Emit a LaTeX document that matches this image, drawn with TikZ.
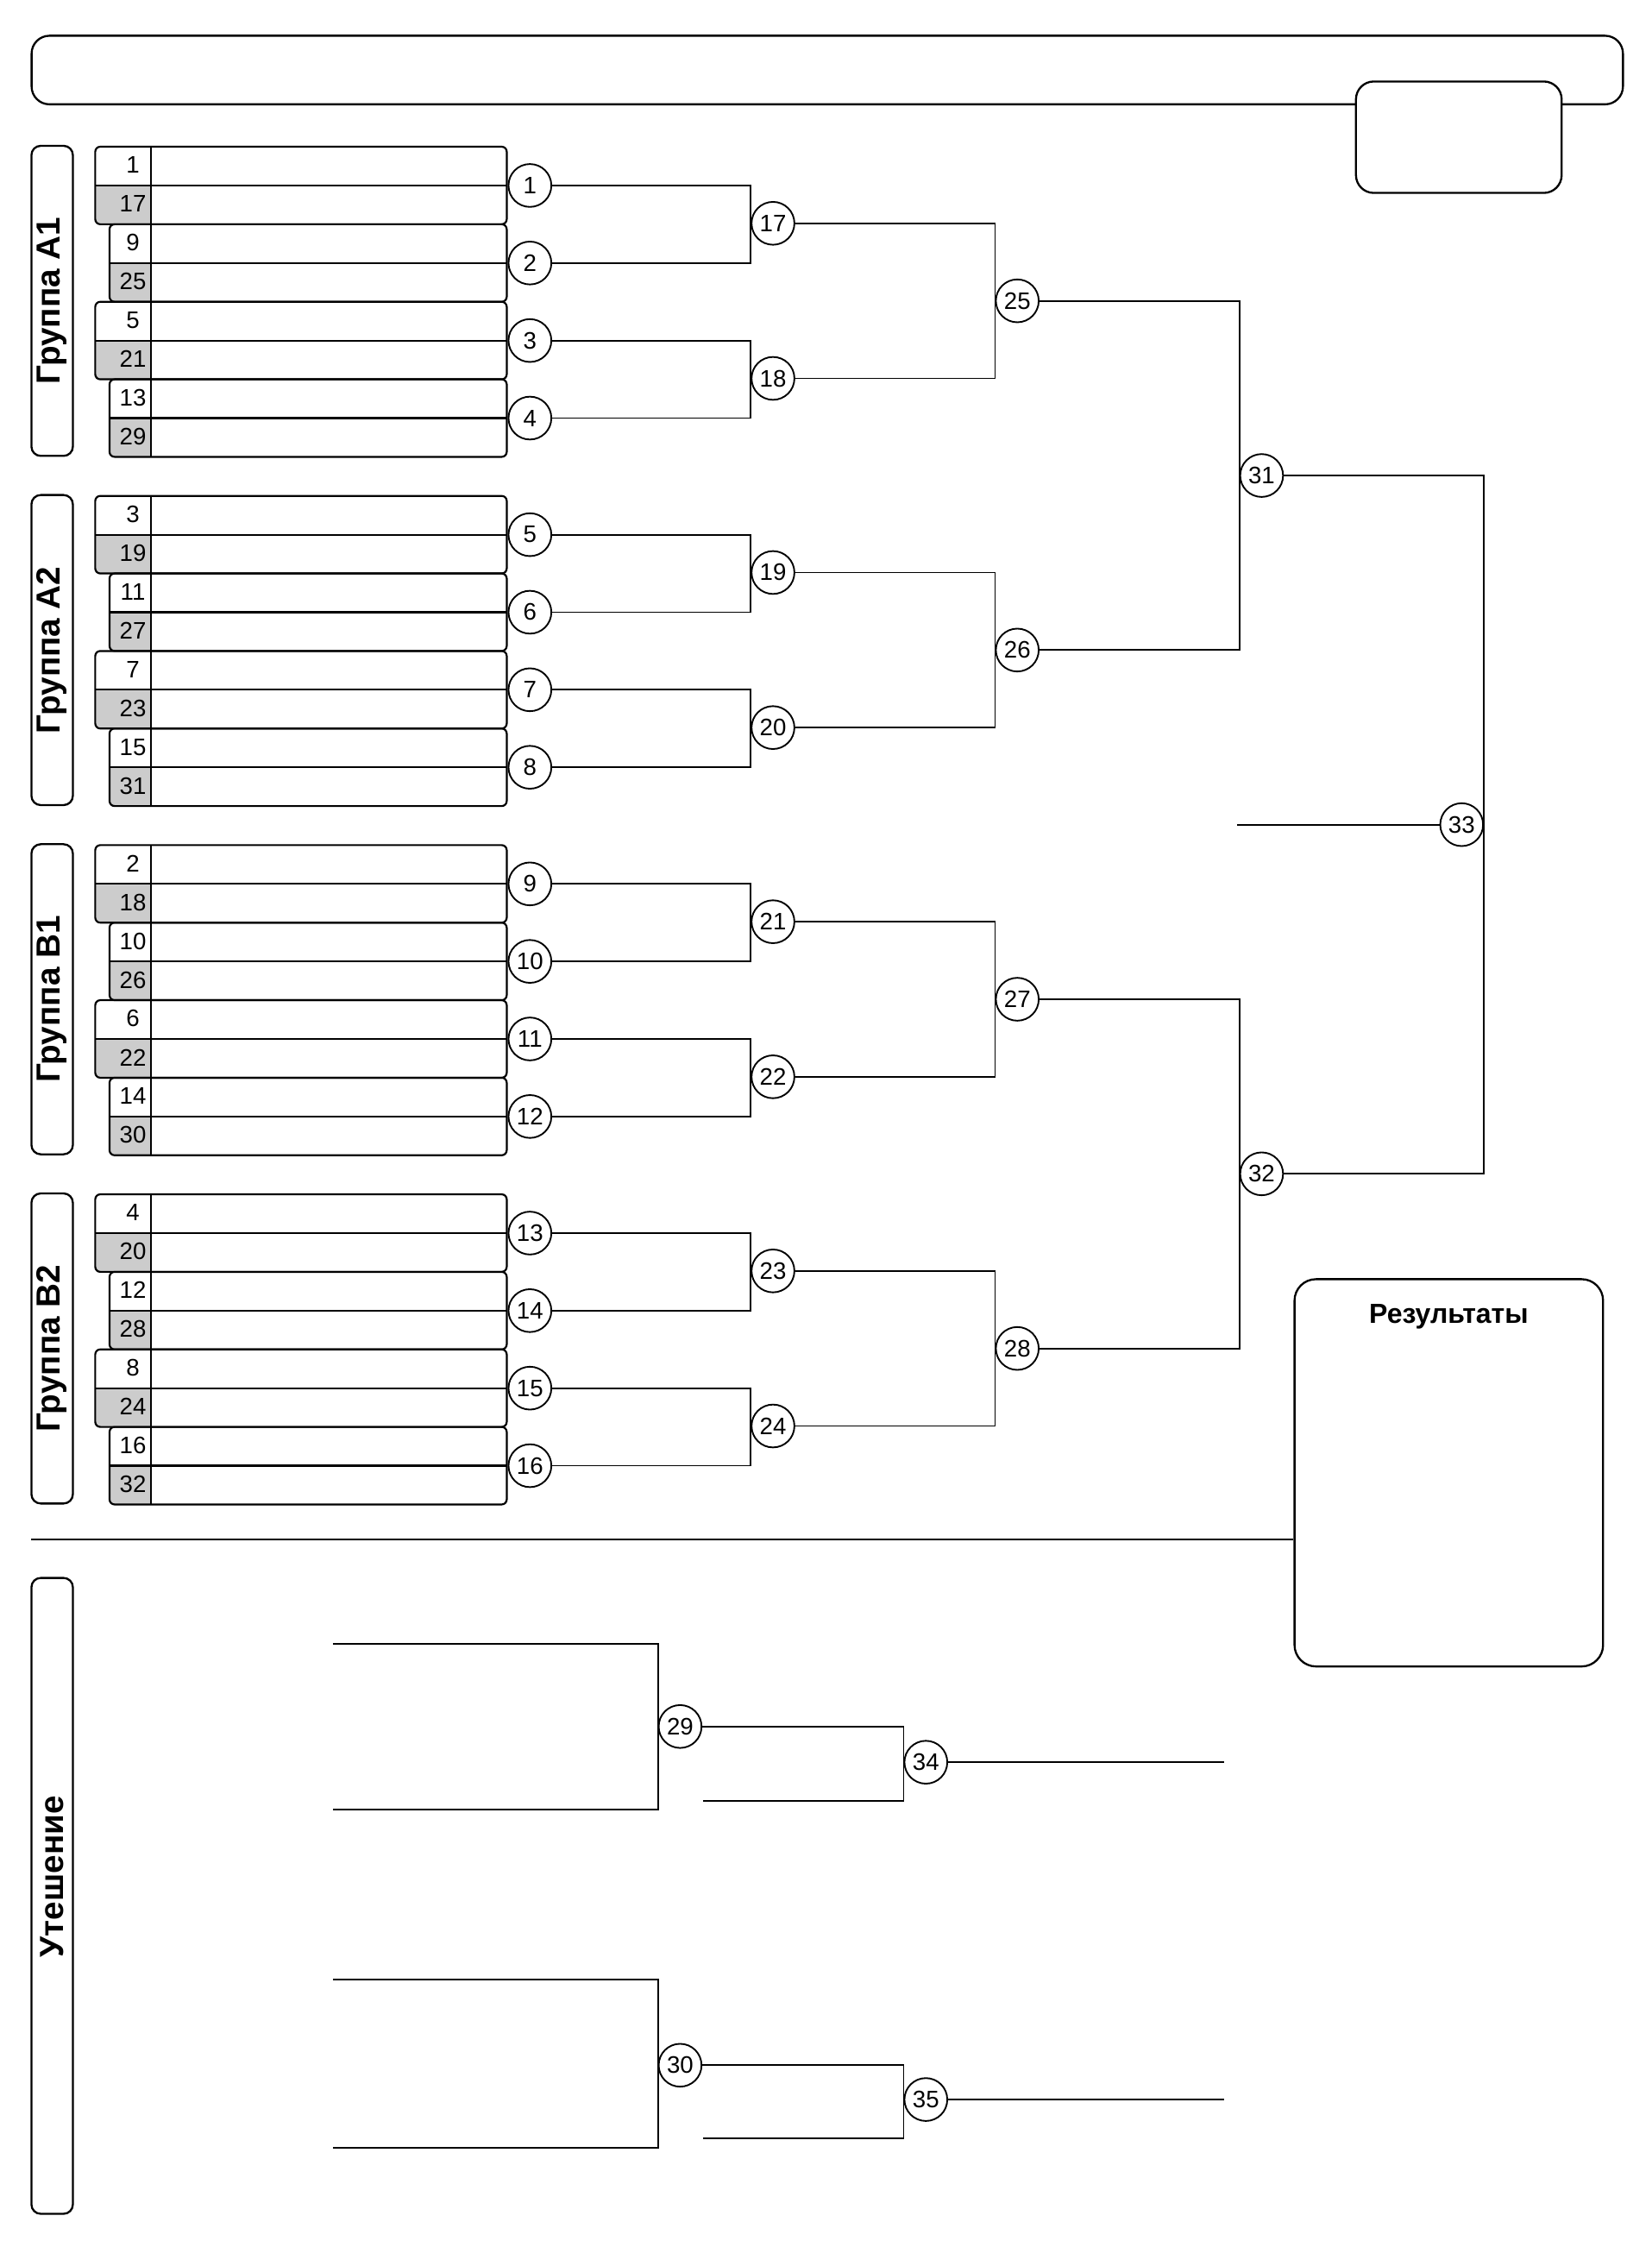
\documentclass[tikz,border=0pt]{standalone}
\usepackage{fontspec}
\setmainfont{Liberation Sans}
\usetikzlibrary{positioning}
\definecolor{seedgray}{gray}{0.8}
\newcommand{\seedfont}{\fontsize{9.5}{11}\selectfont}
\newcommand{\labelfont}{\fontsize{13.3}{15}\selectfont\bfseries}

\begin{document}
\begin{tikzpicture}[x=0.02cm, y=-0.02cm, line width=0.65pt]
  \tikzset{
    panel/.style={draw, line width=0.8pt, fill=white, rounded corners=0.25cm, inner sep=0pt},
    grouplabel/.style={draw, line width=0.8pt, rounded corners=0.13cm, rotate=90, inner sep=0pt,
      minimum width=#1, minimum height=0.58cm, font=\labelfont},
    pairbox/.style={draw, line width=0.75pt, rounded corners=2pt, anchor=north west, inner sep=0pt,
      minimum width=#1, minimum height=1.085cm,
      path picture={
        \fill[seedgray, sharp corners] (path picture bounding box.west)
          rectangle ([xshift=-4.98cm]path picture bounding box.south east);
        \draw ([xshift=-4.98cm]path picture bounding box.north east)
          -- ([xshift=-4.98cm]path picture bounding box.south east);
        \draw (path picture bounding box.west) -- (path picture bounding box.east);}},
    seednum/.style={inner sep=0pt, font=\seedfont},
    match/.style={circle, draw, fill=white, minimum size=0.6cm, inner sep=0pt, font=\seedfont}}
  \useasboundingbox (0,0) rectangle (1156,1568);

  \node[panel, minimum width=22.28cm, minimum height=0.96cm] (header) at (579,49) {};
  \node[panel, minimum width=2.88cm, minimum height=1.56cm] (score) at (1021,96) {};

  \foreach \grp [count=\g from 0] in {А1,А2,В1,В2}
    \node[grouplabel=4.34cm] (grp\g) at (36.5,210.5+244.33*\g) {Группа \grp};

  \foreach \g/\sa/\sb/\sc/\sd in {0/1/9/5/13, 1/3/11/7/15, 2/2/10/6/14, 3/4/12/8/16}
    \foreach \s [count=\k from 0] in {\sa,\sb,\sc,\sd} {
      \pgfmathsetmacro\ytop{102+244.33*\g+54.25*\k}
      \pgfmathsetmacro\xleft{mod(\k,2)==0 ? 66 : 76}
      \pgfmathsetmacro\boxw{(354-\xleft)*0.02}
      \pgfmathtruncatemacro\mnum{4*\g+\k+1}
      \pgfmathtruncatemacro\sbot{\s+16}
      \node[pairbox=\boxw cm] (p\mnum) at (\xleft,\ytop) {};
      \node[seednum] (s\s) at (93,\ytop+13.56) {\s};
      \node[seednum] (s\sbot) at (93,\ytop+40.69) {\sbot};
      \node[match, right=0pt of p\mnum] (m\mnum) {\mnum};
    }

  \foreach \i in {0,...,7} {
    \pgfmathtruncatemacro\mnum{17+\i}
    \pgfmathtruncatemacro\ma{2*\i+1}
    \pgfmathtruncatemacro\mb{2*\i+2}
    \pgfmathsetmacro\yy{156.25+244.33*floor(\i/2)+108.5*mod(\i,2)}
    \node[match] (m\mnum) at (541,\yy) {\mnum};
    \draw (m\ma.east) -| (m\mnum.west) |- (m\mb.east);
  }
  \foreach \i in {0,...,3} {
    \pgfmathtruncatemacro\mnum{25+\i}
    \pgfmathtruncatemacro\ma{17+2*\i}
    \pgfmathtruncatemacro\mb{18+2*\i}
    \node[match] (m\mnum) at (712,210.5+244.33*\i) {\mnum};
    \draw (m\ma.east) -| (m\mnum.west) |- (m\mb.east);
  }
  \node[match] (m31) at (883,332.7) {31};
  \node[match] (m32) at (883,821.3) {32};
  \node[match] (m33) at (1023,577) {33};
  \draw (m25.east) -| (m31.west) |- (m26.east);
  \draw (m27.east) -| (m32.west) |- (m28.east);
  \draw (m31.east) -| (m33.east) |- (m32.east);
  \coordinate (lead) at (866,577);
  \draw (lead) -- (m33.west);

  \node[panel, rounded corners=0.3cm, minimum width=4.32cm, minimum height=5.42cm] (results) at (1014,1030.5) {};
  \node[font=\fontsize{11}{13}\selectfont\bfseries] (restitle) at (1014,921) {Результаты};
  \coordinate (sep) at (22,1077);
  \draw (sep) -- (sep -| results.west);

  \node[grouplabel=8.9cm] (cons) at (36.5,1326.5) {};
  \node[rotate=90, font=\labelfont] (constitle) at (36.5,1313) {Утешение};

  \node[match] (m29) at (476,1208) {29};
  \node[match] (m34) at (648,1233) {34};
  \coordinate (c1) at (233,1150);
  \coordinate (c2) at (233,1266);
  \coordinate (c3) at (492,1260);
  \coordinate (c4) at (857,1233);
  \draw (c1) -| (m29.west) |- (c2);
  \draw (m29.east) -| (m34.west) |- (c3);
  \draw (m34) -- (c4);

  \node[match] (m30) at (476,1445) {30};
  \node[match] (m35) at (648,1469) {35};
  \coordinate (c5) at (233,1385);
  \coordinate (c6) at (233,1503);
  \coordinate (c7) at (492,1496);
  \coordinate (c8) at (857,1469);
  \draw (c5) -| (m30.west) |- (c6);
  \draw (m30.east) -| (m35.west) |- (c7);
  \draw (m35) -- (c8);
\end{tikzpicture}
\end{document}
